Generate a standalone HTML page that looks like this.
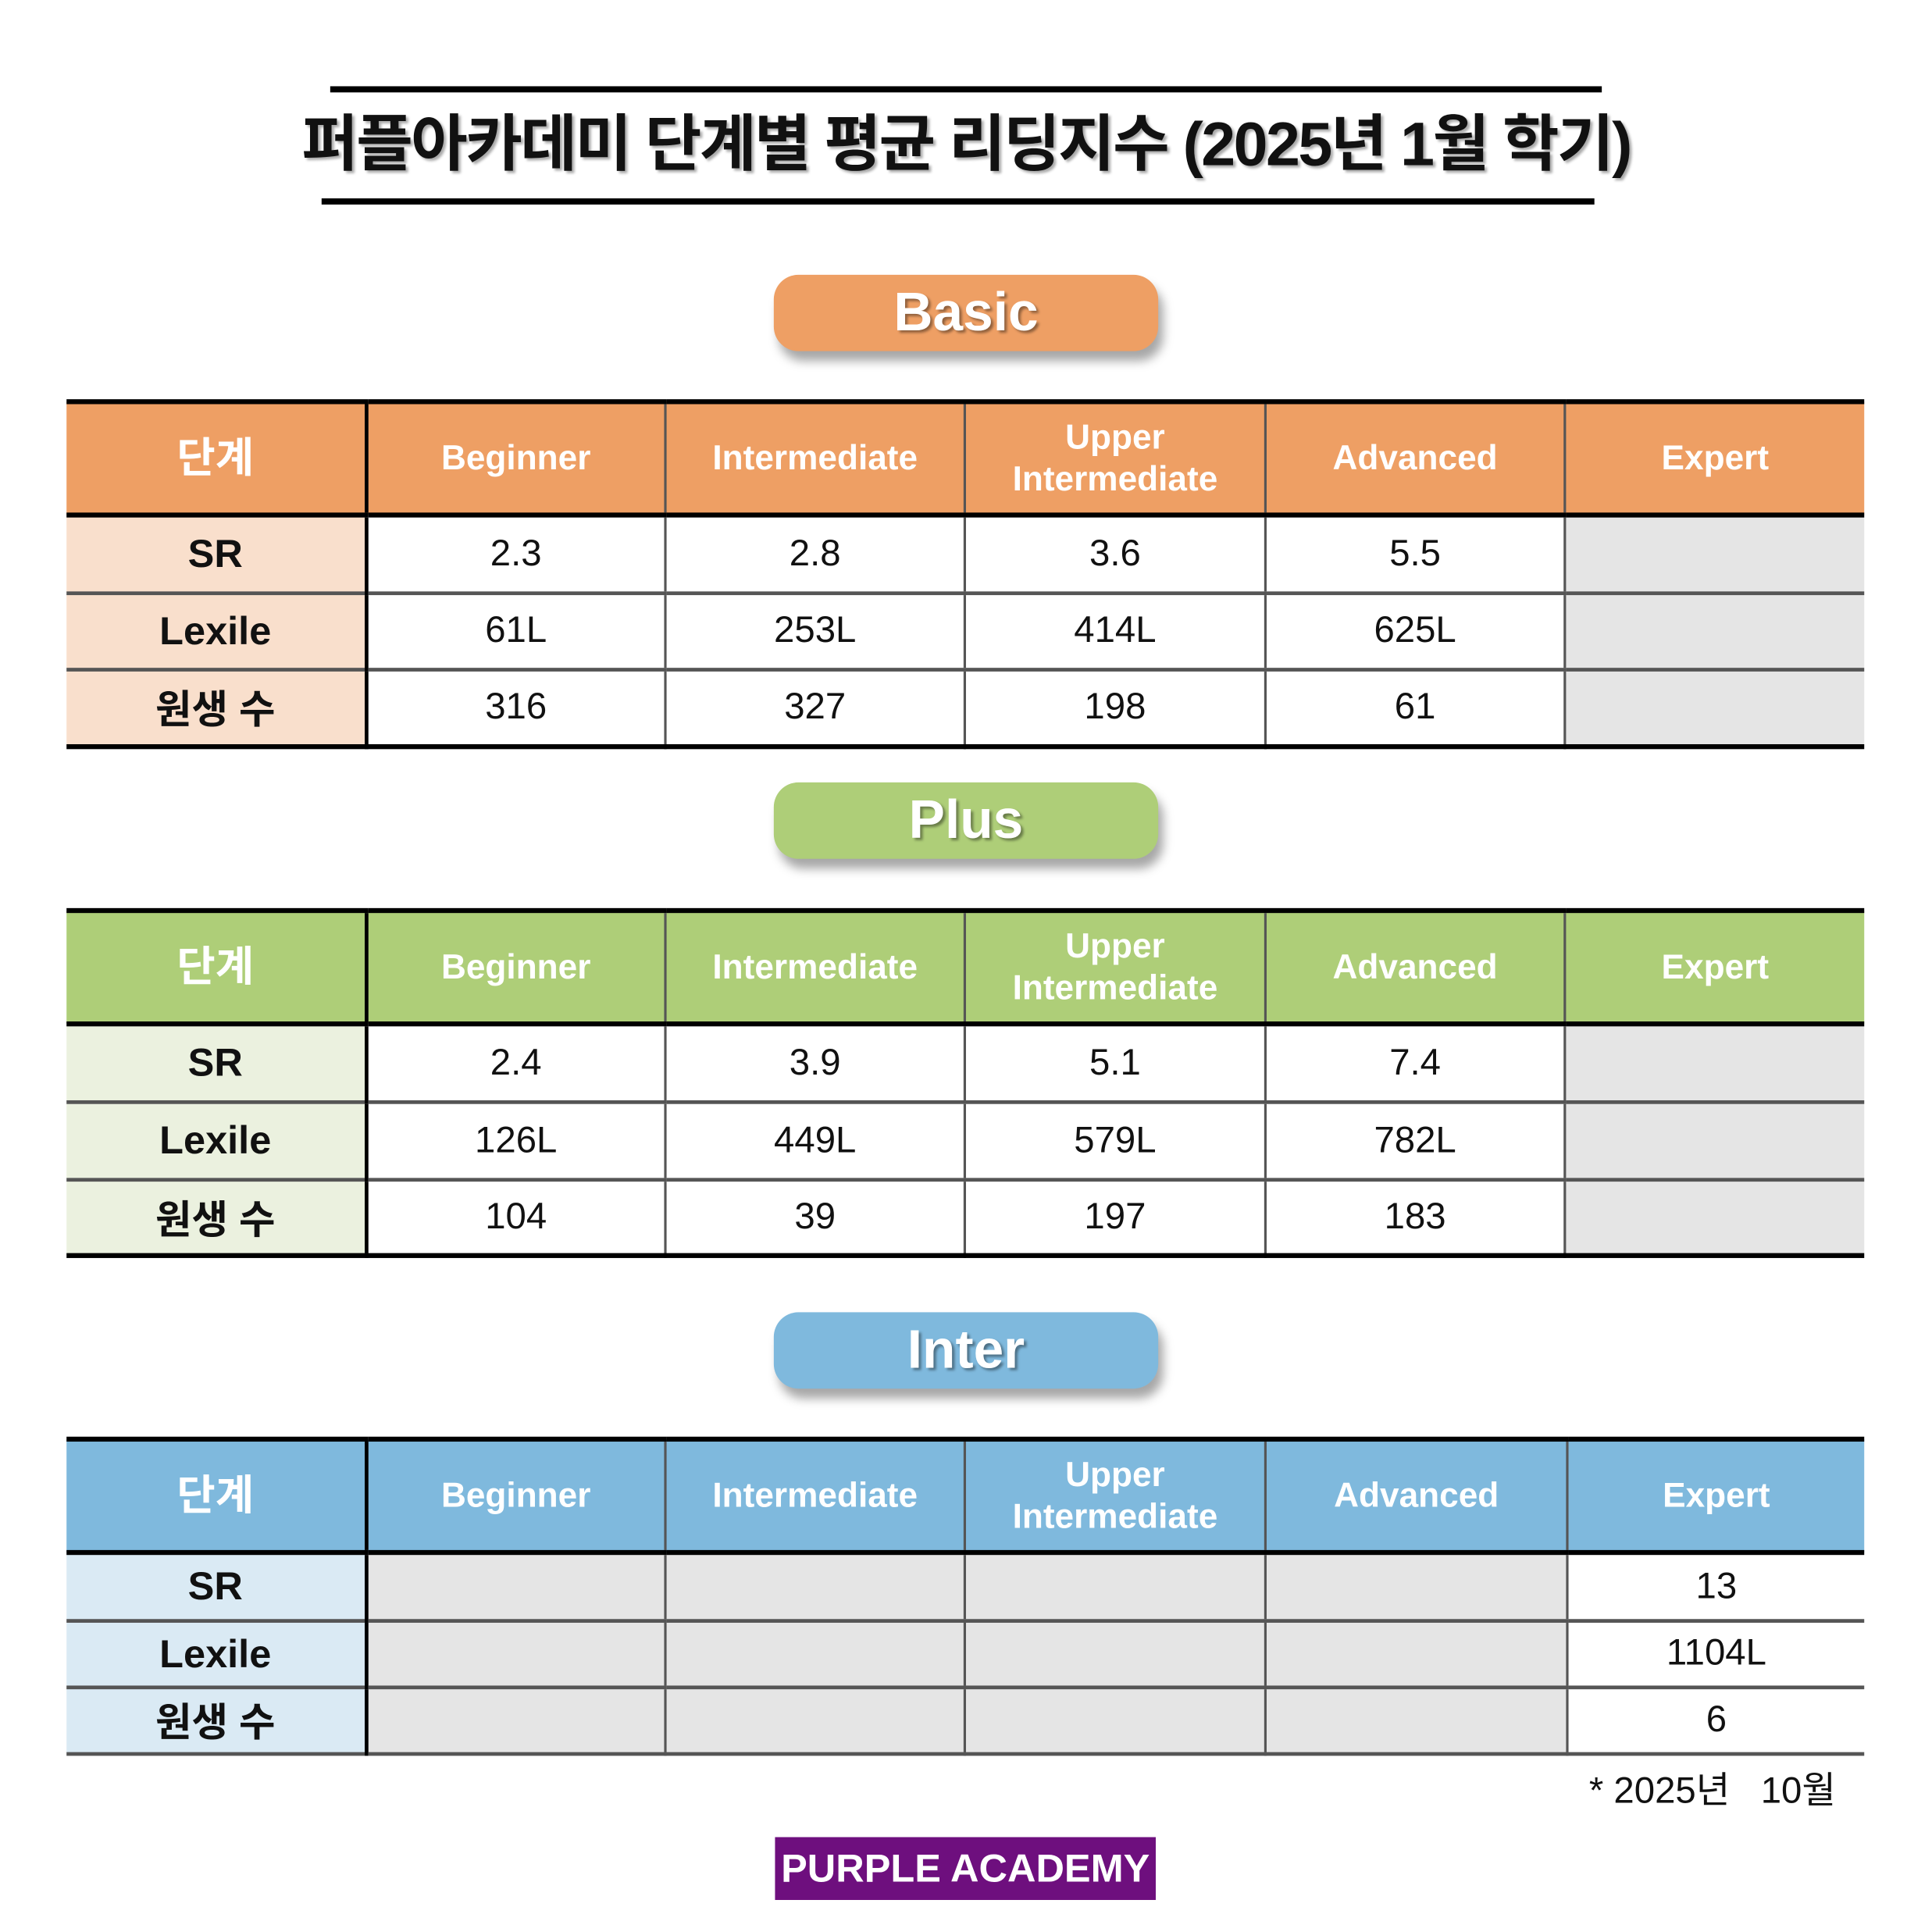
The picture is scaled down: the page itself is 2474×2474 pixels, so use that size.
<!DOCTYPE html>
<html><head><meta charset="utf-8"><style>
html,body{margin:0;padding:0;background:#fff;}
body{width:2474px;height:2474px;overflow:hidden;position:relative;}
#w{position:absolute;left:0;top:0;width:1568px;height:1568px;transform:scale(1.57781);transform-origin:0 0;font-family:"Liberation Sans","Noto Sans CJK KR",sans-serif;}
.a{position:absolute;}
.line{position:absolute;background:#000;}
.title{position:absolute;left:0;width:1568px;top:84px;text-align:center;font-size:50px;font-weight:bold;letter-spacing:-1.6px;color:#111;text-shadow:2px 2px 2px #aaa;line-height:66px;}
.pill{position:absolute;left:628px;width:312px;height:62px;border-radius:20px;color:#fff;font-weight:bold;font-size:44px;text-align:center;line-height:62px;box-shadow:4px 8px 8px rgba(0,0,0,0.35);text-shadow:2px 2px 2px rgba(0,0,0,0.4);}
table{position:absolute;left:54px;width:1459px;border-collapse:collapse;table-layout:fixed;}
td{padding:0;text-align:center;vertical-align:middle;border-left:2px solid #555;border-top:3px solid #555;font-size:30px;color:#111;}
tr.h td{color:#fff;font-size:28px;line-height:34px;border-top:4px solid #000;border-bottom:4px solid #000;font-weight:bold;}
td.f{border-left:none;border-right:3px solid #000;font-weight:bold;font-size:32px;}
tr.h td.f{font-size:34px;}
.g{background:#e5e5e5;}
</style></head><body><div id="w">
<div class="line" style="left:268px;top:70px;width:1032px;height:5px"></div>
<div class="title">퍼플아카데미 단계별 평균 리딩지수 (2025년 1월 학기)</div>
<div class="line" style="left:261px;top:161px;width:1033px;height:5px"></div>

<div class="pill" style="top:223px;background:#EE9F64">Basic</div>
<table style="top:324px;border-bottom:4px solid #000">
<colgroup><col style="width:243px"><col style="width:243px"><col style="width:243px"><col style="width:244px"><col style="width:243px"><col style="width:243px"></colgroup>
<tr class="h" style="height:92px;background:#EE9F64"><td class="f">단계</td><td>Beginner</td><td>Intermediate</td><td>Upper<br>Intermediate</td><td>Advanced</td><td>Expert</td></tr>
<tr style="height:63px"><td class="f" style="background:#F9DFCC">SR</td><td>2.3</td><td>2.8</td><td>3.6</td><td>5.5</td><td class="g"></td></tr>
<tr style="height:62px"><td class="f" style="background:#F9DFCC">Lexile</td><td>61L</td><td>253L</td><td>414L</td><td>625L</td><td class="g"></td></tr>
<tr style="height:63px"><td class="f" style="background:#F9DFCC">원생 수</td><td>316</td><td>327</td><td>198</td><td>61</td><td class="g"></td></tr>
</table>

<div class="pill" style="top:635px;background:#AECE78">Plus</div>
<table style="top:737px;border-bottom:4px solid #000">
<colgroup><col style="width:243px"><col style="width:243px"><col style="width:243px"><col style="width:244px"><col style="width:243px"><col style="width:243px"></colgroup>
<tr class="h" style="height:92px;background:#AECE78"><td class="f">단계</td><td>Beginner</td><td>Intermediate</td><td>Upper<br>Intermediate</td><td>Advanced</td><td>Expert</td></tr>
<tr style="height:63px"><td class="f" style="background:#EBF1DF">SR</td><td>2.4</td><td>3.9</td><td>5.1</td><td>7.4</td><td class="g"></td></tr>
<tr style="height:63px"><td class="f" style="background:#EBF1DF">Lexile</td><td>126L</td><td>449L</td><td>579L</td><td>782L</td><td class="g"></td></tr>
<tr style="height:62px"><td class="f" style="background:#EBF1DF">원생 수</td><td>104</td><td>39</td><td>197</td><td>183</td><td class="g"></td></tr>
</table>

<div class="pill" style="top:1065px;background:#7FB9DD">Inter</div>
<table style="top:1166px;border-bottom:3px solid #555">
<colgroup><col style="width:243px"><col style="width:243px"><col style="width:243px"><col style="width:244px"><col style="width:245px"><col style="width:241px"></colgroup>
<tr class="h" style="height:92px;background:#7FB9DD"><td class="f">단계</td><td>Beginner</td><td>Intermediate</td><td>Upper<br>Intermediate</td><td>Advanced</td><td>Expert</td></tr>
<tr style="height:55px"><td class="f" style="background:#DAEAF4">SR</td><td class="g"></td><td class="g"></td><td class="g"></td><td class="g"></td><td>13</td></tr>
<tr style="height:54px"><td class="f" style="background:#DAEAF4">Lexile</td><td class="g"></td><td class="g"></td><td class="g"></td><td class="g"></td><td>1104L</td></tr>
<tr style="height:54px"><td class="f" style="background:#DAEAF4">원생 수</td><td class="g"></td><td class="g"></td><td class="g"></td><td class="g"></td><td>6</td></tr>
</table>

<div class="a" style="right:78px;top:1428px;font-size:30px;color:#111;white-space:pre">* 2025년   10월</div>
<div class="a" style="left:629px;top:1491px;width:309px;height:51px;background:#6E0F7E;color:#fff;font-weight:bold;font-size:32px;line-height:51px;text-align:center">PURPLE ACADEMY</div>
</div></body></html>
